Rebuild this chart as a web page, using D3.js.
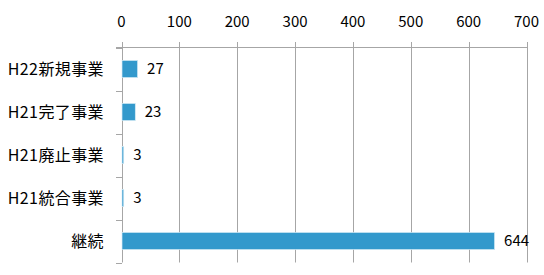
<!DOCTYPE html>
<html><head><meta charset="utf-8">
<script src="https://cdn.jsdelivr.net/npm/d3@7"></script>
<style>body{margin:0;background:#fff}svg{display:block}text{font-family:"Noto Sans CJK JP","Noto Sans",sans-serif}</style>
</head><body>
<svg id="c" width="544" height="275"></svg>
<script>
const categories = ["H22新規事業","H21完了事業","H21廃止事業","H21統合事業","継続"];
const values = [27, 23, 3, 3, 644];
const ticks = [0,100,200,300,400,500,600,700];

const svg = d3.select("#c");
const x = d3.scaleLinear().domain([0,700]).range([121.5,526.5]);
const y = d3.scaleBand().domain(categories).range([47.5,262.5]).paddingInner(0.6).paddingOuter(0.3);
const yb = d3.scaleBand().domain(categories).range([47.5,262.5]);
const grid = "#a6a6a6";

// gridlines
svg.append("g").selectAll("line").data(ticks).join("line")
  .attr("x1",d=>Math.round(x(d))+0.5).attr("x2",d=>Math.round(x(d))+0.5)
  .attr("y1",42).attr("y2",262.5)
  .attr("stroke",grid).attr("stroke-width",1);
// top axis line
svg.append("line").attr("x1",116).attr("x2",x(700)+0.5).attr("y1",47.5).attr("y2",47.5)
  .attr("stroke",grid);
// left category ticks
const bounds = categories.map(c=>yb(c)+yb.bandwidth()).concat([47.5]);
svg.append("g").selectAll("line").data(bounds).join("line")
  .attr("x1",116).attr("x2",122).attr("y1",d=>Math.round(d)+0.5).attr("y2",d=>Math.round(d)+0.5)
  .attr("stroke",grid);
// tick labels
svg.append("g").selectAll("text").data(ticks).join("text")
  .attr("x",d=>x(d)).attr("y",26.5).attr("text-anchor","middle")
  .attr("font-size","15px").attr("fill","#000").text(d=>d);
// bars
svg.append("g").selectAll("rect").data(values).join("rect")
  .attr("x",x(0)+0.5).attr("y",(d,i)=>y(categories[i]))
  .attr("width",d=>x(d)-x(0)).attr("height",y.bandwidth())
  .attr("fill","#3399cc").attr("stroke","#d6ecf5").attr("stroke-width",0.7);
// value labels
svg.append("g").selectAll("text").data(values).join("text")
  .attr("x",d=>x(d)+10).attr("y",(d,i)=>y(categories[i])+y.bandwidth()/2)
  .attr("dy","0.36em").attr("font-size","15px").attr("fill","#000").text(d=>d);
// category labels
svg.append("g").selectAll("text").data(categories).join("text")
  .attr("x",104).attr("y",c=>yb(c)+yb.bandwidth()/2)
  .attr("dy","0.36em").attr("text-anchor","end").attr("font-size","16px").attr("letter-spacing","0.4px").attr("fill","#000").text(c=>c);
</script>
</body></html>
